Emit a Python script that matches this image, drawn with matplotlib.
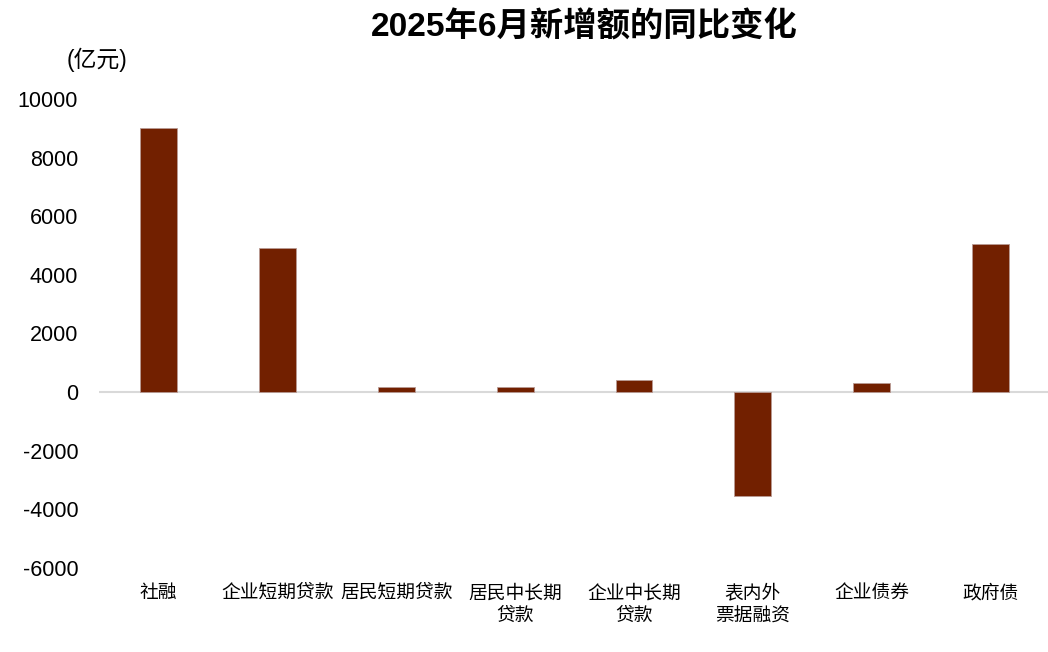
import matplotlib
matplotlib.use("Agg")
import matplotlib.pyplot as plt

plt.rcParams['font.family'] = ['Liberation Sans', 'Noto Sans CJK SC', 'DejaVu Sans']

# 数据（亿元）
categories = ["社融", "企业短期贷款", "居民短期贷款", "居民中长期\n贷款", "企业中长期\n贷款",
              "表内外\n票据融资", "企业债券", "政府债"]
values = [9010, 4910, 160, 160, 400, -3560, 320, 5050]
yticks = [-6000, -4000, -2000, 0, 2000, 4000, 6000, 8000, 10000]

fig = plt.figure(figsize=(10.48, 6.52), dpi=100)
ax = fig.add_axes([0.0945, 0.129, 0.9075, 0.719])

x = range(len(categories))
ax.bar(x, values, width=0.31, color="#722000", edgecolor="#b89a94", linewidth=0.6, zorder=3)
ax.axhline(0, color="#d9d9d9", linewidth=1.5, zorder=2)

ax.set_xlim(-0.5, len(categories) - 0.5)
ax.set_ylim(-6000, 10000)
ax.set_yticks(yticks)
ax.set_yticklabels([str(v) for v in yticks], fontsize=15.5)
ax.set_xticks(list(x))
ax.set_xticklabels(categories, fontsize=13.5, linespacing=1.45)
ax.tick_params(axis="y", length=0, pad=15)
ax.tick_params(axis="x", length=0, pad=12)
for s in ax.spines.values():
    s.set_visible(False)

fig.text(0.558, 0.958, "2025年6月新增额的同比变化", ha="center", va="center",
         fontsize=24, fontweight="bold")
fig.text(0.064, 0.908, "(亿元)", ha="left", va="center", fontsize=16.5)

fig.savefig("out.png", dpi=100)
